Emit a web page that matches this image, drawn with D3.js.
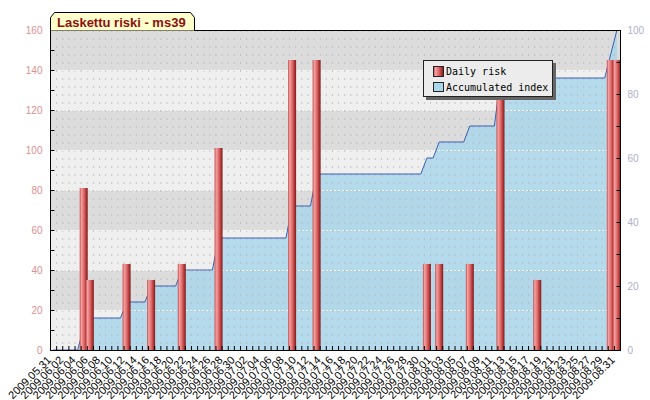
<!DOCTYPE html>
<html lang="fi">
<head>
<meta charset="utf-8">
<title>Laskettu riski - ms39</title>
<script src="https://d3js.org/d3.v7.min.js"></script>
<style>
  body { margin: 0; background: #fff; }
  svg { display: block; }
  .lbl { font-family: "Liberation Sans", Arial, sans-serif; font-size: 10px; }
  .legend text { font-family: "DejaVu Sans Mono", monospace; font-size: 10px; fill: #000; }
</style>
</head>
<body>
<script>

// categories: one per day
var firstDay = "2009-05-31";
var lastDay = "2009-08-31";

// daily risk (left axis)
var riskDates = ["2009-06-05", "2009-06-06", "2009-06-12", "2009-06-16", "2009-06-21",
                 "2009-06-27", "2009-07-09", "2009-07-13", "2009-07-31", "2009-08-02",
                 "2009-08-07", "2009-08-12", "2009-08-18", "2009-08-30", "2009-08-31"];
var riskValues = [81, 35, 43, 35, 43, 101, 145, 145, 43, 43, 43, 145, 35, 145, 145];

// accumulated index (right axis), one value per day from 2009-05-31
var accumulated = [
  0, 0, 0, 0, 0, 7, 10, 10, 10, 10,
  10, 10, 15, 15, 15, 15, 20, 20, 20, 20,
  20, 25, 25, 25, 25, 25, 25, 35, 35, 35,
  35, 35, 35, 35, 35, 35, 35, 35, 35, 45,
  45, 45, 45, 55, 55, 55, 55, 55, 55, 55,
  55, 55, 55, 55, 55, 55, 55, 55, 55, 55,
  55, 60, 60, 65, 65, 65, 65, 65, 70, 70,
  70, 70, 70, 85, 85, 85, 85, 85, 85, 85,
  85, 85, 85, 85, 85, 85, 85, 85, 85, 85,
  85, 92.5, 100
];

var leftTicks = [0, 20, 40, 60, 80, 100, 120, 140, 160];
var rightTicks = [0, 20, 40, 60, 80, 100];

var w = 650, h = 400;
var pL = 50, pR = 620, pT = 30, pB = 350;

var parse = d3.timeParse("%Y-%m-%d");
var fmt = d3.timeFormat("%Y.%m.%d");
var days = d3.timeDay.range(parse(firstDay), d3.timeDay.offset(parse(lastDay), 1));
var keys = days.map(fmt);

var x = d3.scaleBand().domain(keys).range([pL, pR]);
var bw = x.bandwidth();
var yL = d3.scaleLinear().domain([0, 160]).range([pB, pT]);
var yR = d3.scaleLinear().domain([0, 100]).range([pB, pT]);

var svg = d3.select("body").append("svg")
            .attr("width", w)
            .attr("height", h);

var defs = svg.append("defs");
var grad = defs.append("linearGradient").attr("id", "barGrad")
               .attr("x1", "0%").attr("x2", "100%").attr("y1", "0%").attr("y2", "0%");
[["0%", "#c04848"], ["20%", "#f4a0a0"], ["50%", "#e07070"], ["80%", "#b03434"], ["100%", "#7a2020"]]
  .forEach(function(s) { grad.append("stop").attr("offset", s[0]).attr("stop-color", s[1]); });

//Background bands
svg.append("g").selectAll("rect")
   .data(d3.range(leftTicks.length - 1))
   .enter().append("rect")
   .attr("x", pL)
   .attr("width", pR - pL)
   .attr("y", function(i) { return yL(leftTicks[i + 1]); })
   .attr("height", function(i) { return yL(leftTicks[i]) - yL(leftTicks[i + 1]); })
   .attr("fill", function(i) { return i % 2 ? "#dcdcdc" : "#efefef"; });

//Accumulated index area
var accData = keys.map(function(k, i) { return { key: k, value: accumulated[i] }; });
var area = d3.area()
             .x(function(d) { return x(d.key) + bw / 2; })
             .y0(pB)
             .y1(function(d) { return yR(d.value); });
var line = d3.line()
             .x(function(d) { return x(d.key) + bw / 2; })
             .y(function(d) { return yR(d.value); });

svg.append("path").datum(accData)
   .attr("d", area)
   .attr("fill", "#a9d6ea")
   .attr("fill-opacity", 0.85);

//Grid
svg.append("g").selectAll("line")
   .data(keys)
   .enter().append("line")
   .attr("x1", function(d) { return x(d) + 0.5; })
   .attr("x2", function(d) { return x(d) + 0.5; })
   .attr("y1", pT)
   .attr("y2", pB)
   .attr("stroke", "#b4b4b4")
   .attr("stroke-opacity", 0.7)
   .attr("stroke-dasharray", "2,6");

svg.append("g").selectAll("line")
   .data(leftTicks.slice(1, -1))
   .enter().append("line")
   .attr("x1", pL)
   .attr("x2", pR)
   .attr("y1", function(d) { return yL(d) + 0.5; })
   .attr("y2", function(d) { return yL(d) + 0.5; })
   .attr("stroke", "#f6f6ec")
   .attr("stroke-dasharray", "2,2");

svg.append("path").datum(accData)
   .attr("d", line)
   .attr("fill", "none")
   .attr("stroke", "#3d5fae")
   .attr("stroke-width", 1);

//Daily risk bars
svg.append("g").selectAll("rect")
   .data(riskDates)
   .enter().append("rect")
   .attr("x", function(d) { return x(fmt(parse(d))) + bw / 2 - 4; })
   .attr("width", 8)
   .attr("y", function(d, i) { return yL(riskValues[i]); })
   .attr("height", function(d, i) { return pB - yL(riskValues[i]); })
   .attr("fill", "url(#barGrad)");

//Frame
svg.append("rect")
   .attr("x", pL + 0.5).attr("y", pT + 0.5)
   .attr("width", pR - pL).attr("height", pB - pT)
   .attr("fill", "none").attr("stroke", "#000");

//Left axis
var gl = svg.append("g").attr("transform", "translate(" + (pL + 0.5) + ",0)");
gl.call(d3.axisLeft(yL).tickValues(d3.range(0, 161, 10)).tickSize(-4).tickFormat(""))
  .call(function(g) { g.select(".domain").remove(); });
gl.append("g").selectAll("text")
  .data(leftTicks)
  .enter().append("text")
  .attr("class", "lbl")
  .attr("x", -8)
  .attr("y", function(d) { return yL(d); })
  .attr("dy", "0.35em")
  .attr("text-anchor", "end")
  .attr("fill", "#dc9090")
  .text(function(d) { return d; });

//Right axis
var gr = svg.append("g").attr("transform", "translate(" + (pR + 0.5) + ",0)");
gr.call(d3.axisRight(yR).tickValues(d3.range(0, 101, 10)).tickSize(-4).tickFormat(""))
  .call(function(g) { g.select(".domain").remove(); });
gr.append("g").selectAll("text")
  .data(rightTicks)
  .enter().append("text")
  .attr("class", "lbl")
  .attr("x", 7)
  .attr("y", function(d) { return yR(d); })
  .attr("dy", "0.35em")
  .attr("fill", "#aeb0cc")
  .text(function(d) { return d; });

//Bottom axis ticks and labels
svg.append("g").selectAll("line")
   .data(keys)
   .enter().append("line")
   .attr("x1", function(d) { return x(d) + 0.5; })
   .attr("x2", function(d) { return x(d) + 0.5; })
   .attr("y1", pB)
   .attr("y2", pB - 4)
   .attr("stroke", "#000");

svg.append("g").selectAll("text")
   .data(keys.filter(function(d, i) { return i % 2 === 0; }))
   .enter().append("text")
   .attr("class", "lbl")
   .style("font-size", "11px")
   .attr("text-anchor", "end")
   .attr("transform", function(d) {
      return "translate(" + (x(d) + bw / 2 - 4) + "," + (pB + 8) + ") rotate(-45)";
   })
   .attr("dy", "0.35em")
   .text(function(d) { return d; });

//Title tab
svg.append("path")
   .attr("d", "M50.5,30.5 L50.5,17.5 L54.5,12.5 L190.5,12.5 L194.5,17.5 L194.5,30.5")
   .attr("fill", "#ffffcc")
   .attr("stroke", "#000");
svg.append("text")
   .attr("x", 57)
   .attr("y", 26.5)
   .style("font-family", "'Liberation Sans', Arial, sans-serif")
   .style("font-size", "13px")
   .style("font-weight", "bold")
   .attr("fill", "#8b1010")
   .text("Laskettu riski - ms39");

//Legend
var lg = svg.append("g").attr("class", "legend").attr("transform", "translate(423,60)");
lg.append("rect").attr("x", 3).attr("y", 3).attr("width", 130).attr("height", 37).attr("fill", "#666");
lg.append("rect").attr("x", 0.5).attr("y", 0.5).attr("width", 129).attr("height", 36)
  .attr("fill", "#ececec").attr("stroke", "#222");
lg.append("rect").attr("x", 10.5).attr("y", 6.5).attr("width", 10).attr("height", 10)
  .attr("fill", "url(#barGrad)").attr("stroke", "#222");
lg.append("text").attr("x", 23).attr("y", 15).text("Daily risk");
lg.append("rect").attr("x", 10.5).attr("y", 22.5).attr("width", 10).attr("height", 9)
  .attr("fill", "#a9d6ea").attr("stroke", "#222");
lg.append("text").attr("x", 23).attr("y", 31).text("Accumulated index");

</script>
</body>
</html>
